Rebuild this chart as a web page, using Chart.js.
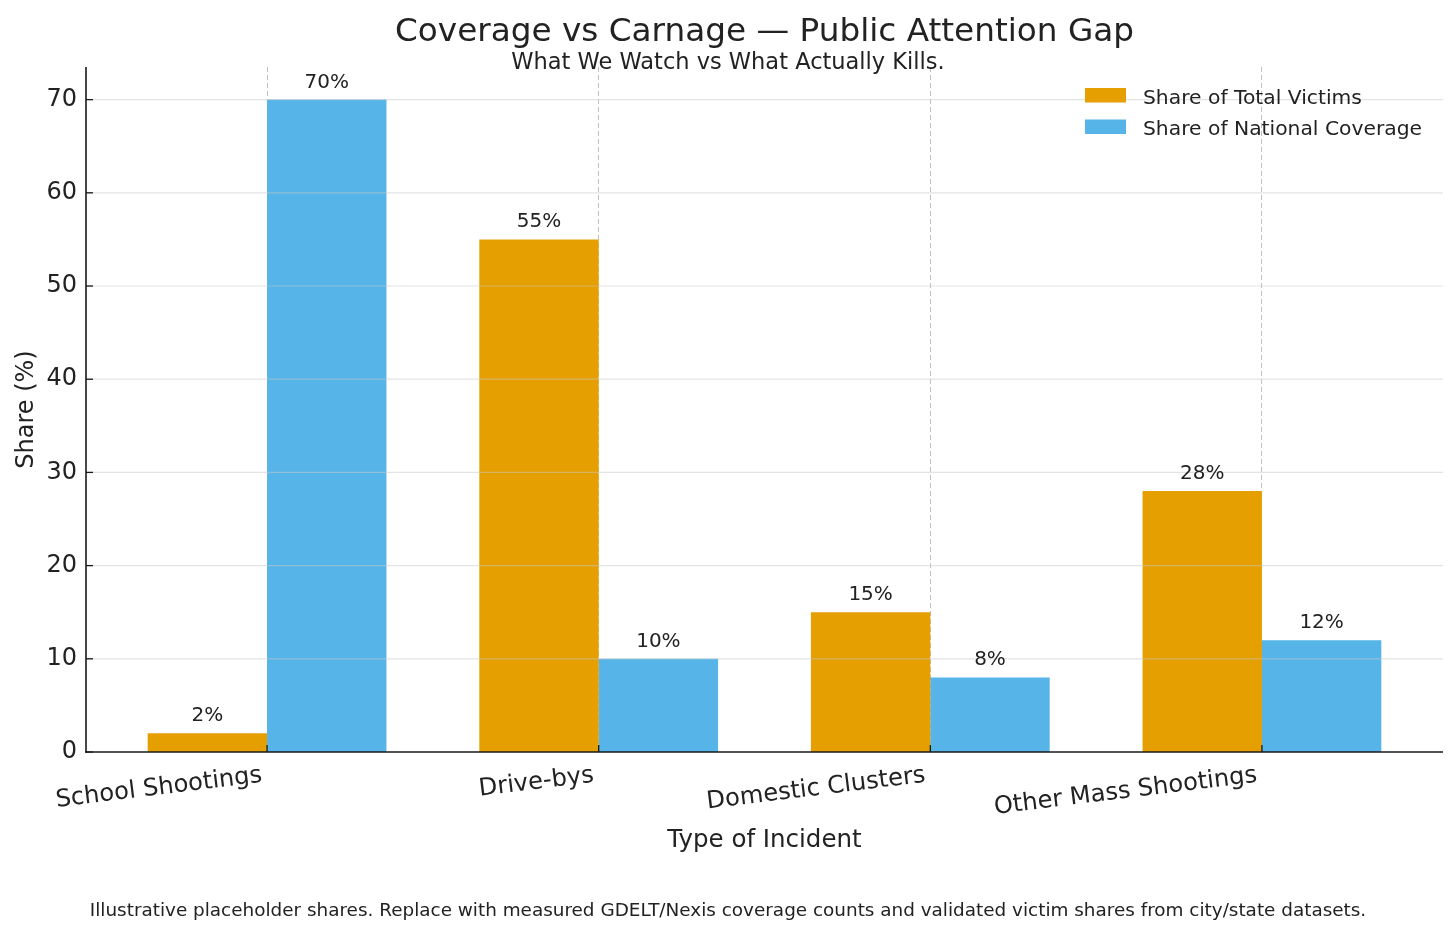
<!DOCTYPE html>
<html>
<head>
<meta charset="utf-8">
<script src="https://cdn.jsdelivr.net/npm/chart.js@4"></script>
<style>
  html, body { margin: 0; padding: 0; background: #ffffff; }
  canvas { display: block; }
</style>
</head>
<body>
<canvas id="c" width="1456" height="934"></canvas>
<script>
// ---- data ----
const categories = ['School Shootings', 'Drive-bys', 'Domestic Clusters', 'Other Mass Shootings'];
const victimsShare = [2, 55, 15, 28];
const coverageShare = [70, 10, 8, 12];
const seriesLabels = ['Share of Total Victims', 'Share of National Coverage'];
const yTickValues = [0, 10, 20, 30, 40, 50, 60, 70];

const titleText = 'Coverage vs Carnage \u2014 Public Attention Gap';
const subtitleText = 'What We Watch vs What Actually Kills.';
const footnoteText = 'Illustrative placeholder shares. Replace with measured GDELT/Nexis coverage counts and validated victim shares from city/state datasets.';
const xTitle = 'Type of Incident';
const yTitle = 'Share (%)';

// ---- styles ----
const FONT = '"DejaVu Sans", "Noto Sans", sans-serif';
const TEXT = '#222222';
const colors = ['#E69F00', '#56B4E9'];

const toPoints = arr => arr.map((v, i) => ({ x: i, y: v }));

const overlay = {
  id: 'overlay',
  afterDatasetsDraw(chart) {
    const { ctx, chartArea: a, scales: { x, y } } = chart;
    const line = (x1, y1, x2, y2) => { ctx.beginPath(); ctx.moveTo(x1, y1); ctx.lineTo(x2, y2); ctx.stroke(); };
    ctx.save();
    // horizontal grid (drawn over bars, semi-transparent)
    ctx.strokeStyle = 'rgba(200,200,200,0.5)';
    ctx.lineWidth = 1.2;
    y.ticks.forEach(t => {
      if (t.value === 0) return;
      const py = y.getPixelForValue(t.value);
      line(a.left, py, a.right, py);
    });
    // spines
    ctx.strokeStyle = '#1a1a1a';
    ctx.lineWidth = 1.6;
    line(a.left, a.top, a.left, a.bottom + 0.8);
    line(a.left - 0.8, a.bottom, a.right, a.bottom);
    // inward ticks
    ctx.lineWidth = 1.3;
    y.ticks.forEach(t => {
      const py = y.getPixelForValue(t.value);
      line(a.left, py, a.left + 7, py);
    });
    x.ticks.forEach(t => {
      const px = x.getPixelForValue(t.value);
      line(px, a.bottom, px, a.bottom - 7);
    });
    // value labels
    ctx.font = '20px ' + FONT;
    ctx.fillStyle = TEXT;
    ctx.textAlign = 'center';
    ctx.textBaseline = 'alphabetic';
    chart.data.datasets.forEach((ds, di) => {
      chart.getDatasetMeta(di).data.forEach((bar, i) => {
        ctx.fillText(ds.data[i].y + '%', bar.x, bar.y - 12);
      });
    });
    // legend (inside plot, upper right, no frame)
    const lx = a.right - 358;
    ctx.font = '20.3px ' + FONT;
    chart.data.datasets.forEach((ds, di) => {
      const top = a.top + 21 + di * 31.5;
      ctx.fillStyle = ds.backgroundColor;
      ctx.fillRect(lx, top, 41, 14.5);
      ctx.fillStyle = TEXT;
      ctx.textAlign = 'left';
      ctx.fillText(ds.label, lx + 58, top + 15.5);
    });
    ctx.restore();
  },
  afterDraw(chart) {
    const { ctx, chartArea: a, width } = chart;
    ctx.save();
    ctx.fillStyle = TEXT;
    ctx.textAlign = 'center';
    ctx.textBaseline = 'alphabetic';
    ctx.font = '32.7px ' + FONT;
    ctx.fillText(titleText, (a.left + a.right) / 2, 41);
    ctx.font = '22.5px ' + FONT;
    ctx.fillText(subtitleText, width / 2, 68.5);
    ctx.font = '18.4px ' + FONT;
    ctx.fillText(footnoteText, width / 2, 916);
    ctx.restore();
  }
};

new Chart(document.getElementById('c'), {
  type: 'bar',
  data: {
    datasets: [
      { label: seriesLabels[0], data: toPoints(victimsShare), backgroundColor: colors[0], borderWidth: 0 },
      { label: seriesLabels[1], data: toPoints(coverageShare), backgroundColor: colors[1], borderWidth: 0 }
    ]
  },
  options: {
    responsive: false,
    animation: false,
    devicePixelRatio: 1,
    layout: { padding: { top: 67, right: 13, bottom: 74, left: 0 } },
    datasets: { bar: { categoryPercentage: 0.72, barPercentage: 1.0 } },
    plugins: { legend: { display: false }, tooltip: { enabled: false }, title: { display: false } },
    scales: {
      x: {
        type: 'linear',
        offset: false,
        min: -0.546,
        max: 3.546,
        afterBuildTicks: s => { s.ticks = categories.map((_, i) => ({ value: i })); },
        afterFit: s => { s.height = 108; s.paddingLeft = 0; s.paddingRight = 0; },
        ticks: {
          autoSkip: false,
          minRotation: 7,
          maxRotation: 7,
          padding: 9,
          labelOffset: -5,
          color: TEXT,
          font: { family: FONT, size: 24.2 },
          callback: v => categories[Math.round(v)]
        },
        grid: { display: true, offset: false, drawTicks: false, color: 'rgba(150,150,150,0.6)', lineWidth: 1 },
        border: { display: false, dash: [5, 3] },
        title: { display: true, text: xTitle, color: TEXT, font: { family: FONT, size: 24.5 }, padding: { top: 0, bottom: 5 } }
      },
      y: {
        type: 'linear',
        min: 0,
        max: 73.5,
        afterBuildTicks: s => { s.ticks = yTickValues.map(v => ({ value: v })); },
        afterFit: s => { s.width = 86; },
        ticks: { padding: 9, color: TEXT, font: { family: FONT, size: 24 } },
        grid: { display: false, drawTicks: false },
        border: { display: false },
        title: { display: true, text: yTitle, color: TEXT, font: { family: FONT, size: 24 }, padding: { top: 12, bottom: 0 } }
      }
    }
  },
  plugins: [overlay]
});
</script>
</body>
</html>
